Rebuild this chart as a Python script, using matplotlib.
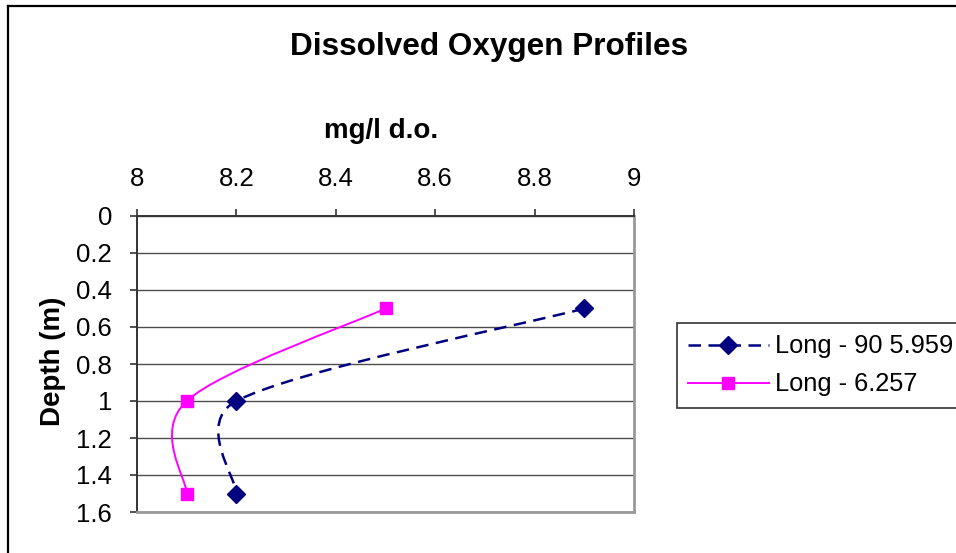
import matplotlib.pyplot as plt
from matplotlib.path import Path
from matplotlib.patches import PathPatch
from matplotlib.lines import Line2D
import numpy as np

plt.rcParams['font.family'] = ['Liberation Sans', 'DejaVu Sans']

# dissolved oxygen (mg/l) against depth (m)
depth = [0.5, 1.0, 1.5]
do_long90 = [8.9, 8.2, 8.2]
do_long6 = [8.5, 8.1, 8.1]
names = ['Long - 90 5.959', 'Long - 6.257']

xticks = [8, 8.2, 8.4, 8.6, 8.8, 9]
yticks = [0, 0.2, 0.4, 0.6, 0.8, 1, 1.2, 1.4, 1.6]


def smooth_path(ax, xs, ys):
    # bezier smoothing worked out in screen space, handles kept at most
    # half the length of the segment they belong to
    tr = ax.transData
    pts = tr.transform(np.column_stack([xs, ys]))
    n = len(pts)
    verts = [pts[0]]
    codes = [Path.MOVETO]
    for i in range(n - 1):
        p0 = pts[max(i - 1, 0)]
        p1 = pts[i]
        p2 = pts[i + 1]
        p3 = pts[min(i + 2, n - 1)]
        seg = np.hypot(*(p2 - p1))
        h1 = (p2 - p0) / 6
        h2 = (p3 - p1) / 6
        for h in (h1, h2):
            ln = np.hypot(*h)
            if ln > seg / 2:
                h *= (seg / 2) / ln
        verts += [p1 + h1, p2 - h2, p2]
        codes += [Path.CURVE4] * 3
    verts = tr.inverted().transform(np.array(verts))
    return Path(verts, codes)


fig = plt.figure(figsize=(9.56, 5.53), dpi=100)
ax = fig.add_axes([137 / 956, 1 - 512 / 553, 497 / 956, 296 / 553])
ax.set_xlim(8, 9)
ax.set_ylim(1.6, 0)

navy = '#000080'
magenta = '#FF00FF'
dash = (0, (5, 3))

ax.add_patch(PathPatch(smooth_path(ax, do_long90, depth), fill=False,
                       edgecolor=navy, lw=1.8, linestyle=dash, zorder=3))
ax.plot(do_long90, depth, linestyle='none', marker='D', markersize=9.5,
        color=navy, zorder=4)
ax.add_patch(PathPatch(smooth_path(ax, do_long6, depth), fill=False,
                       edgecolor=magenta, lw=1.4, zorder=3))
ax.plot(do_long6, depth, linestyle='none', marker='s', markersize=8,
        color=magenta, zorder=4)

ax.set_xticks(xticks)
ax.set_xticklabels(['8', '8.2', '8.4', '8.6', '8.8', '9'])
ax.set_yticks(yticks)
ax.set_yticklabels(['0', '0.2', '0.4', '0.6', '0.8', '1', '1.2', '1.4', '1.6'])
ax.xaxis.tick_top()
ax.tick_params(axis='both', labelsize=18.5, length=5, width=1.2,
               color='#333333', direction='out')
ax.tick_params(axis='x', pad=13)
ax.tick_params(axis='y', pad=13)
ax.yaxis.grid(True, color='#4d4d4d', lw=1)
ax.set_axisbelow(True)
for side in ['left', 'top']:
    ax.spines[side].set_color('#333333')
    ax.spines[side].set_linewidth(1.4)
for side in ['right', 'bottom']:
    ax.spines[side].set_color('#999999')
    ax.spines[side].set_linewidth(2)

fig.text(489 / 956, 1 - 47 / 553, 'Dissolved Oxygen Profiles', ha='center',
         va='center', fontsize=22.7, fontweight='bold')
fig.text(381 / 956, 1 - 131 / 553, 'mg/l d.o.', ha='center', va='center',
         fontsize=20, fontweight='bold')
fig.text(53 / 956, 1 - 361 / 553, 'Depth (m)', ha='center', va='center',
         rotation=90, fontsize=20, fontweight='bold')

handles = [
    Line2D([], [], color=navy, lw=1.8, linestyle=dash, marker='D',
           markersize=9.5),
    Line2D([], [], color=magenta, lw=1.4, marker='s', markersize=8),
]
leg = fig.legend(handles, names, loc='upper left',
                 bbox_to_anchor=(677 / 956, 1 - 323 / 553), fontsize=18.3,
                 frameon=True, fancybox=False, edgecolor='black',
                 handlelength=3.15, handletextpad=0.25, borderpad=0.45,
                 labelspacing=0.55, borderaxespad=0)
leg.get_frame().set_linewidth(1.2)

# outer chart frame
fig.add_artist(Line2D([8 / 956, 8 / 956], [0, 1 - 6 / 553], color='black',
                      lw=1.6, transform=fig.transFigure))
fig.add_artist(Line2D([8 / 956, 1], [1 - 6 / 553, 1 - 6 / 553], color='black',
                      lw=1.6, transform=fig.transFigure))

fig.savefig('out.png', dpi=100)
